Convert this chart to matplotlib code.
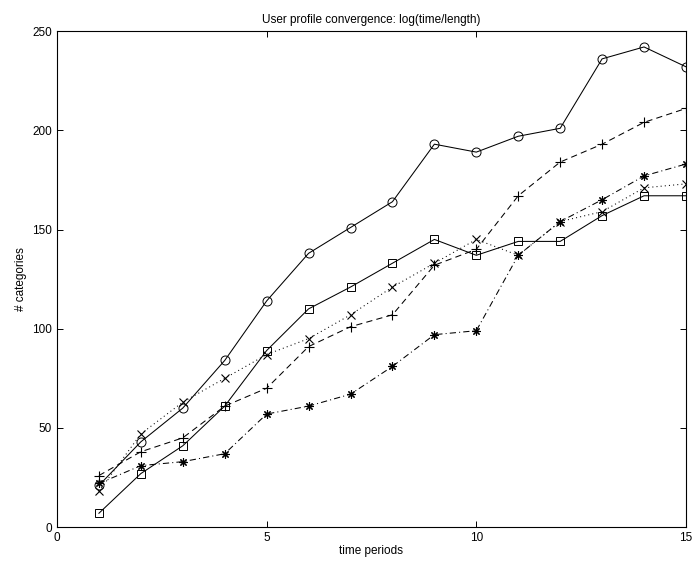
import matplotlib
matplotlib.use("Agg")
import matplotlib.pyplot as plt

plt.rcParams["font.family"] = ["Liberation Sans", "DejaVu Sans"]

# Number of categories in user profiles per time period

periods = list(range(1, 16))

circle_series = [21, 43, 60, 84, 114, 138, 151, 164, 193, 189, 197, 201, 236, 242, 232]
plus_series = [26, 38, 45, 61, 70, 91, 101, 107, 132, 140, 167, 184, 193, 204, 211]
square_series = [7, 27, 41, 61, 89, 110, 121, 133, 145, 137, 144, 144, 157, 167, 167]
x_series = [18, 47, 63, 75, 87, 95, 107, 121, 133, 145, 137, 154, 159, 171, 173]
star_series = [22, 31, 33, 37, 57, 61, 67, 81, 97, 99, 137, 154, 165, 177, 183]

fig = plt.figure(figsize=(6.95, 5.65), dpi=100)
ax = fig.add_axes([0.082, 0.067, 0.905, 0.878])

lw = 0.75
ax.plot(periods, circle_series, color="black", linestyle="-", linewidth=lw,
        marker="o", markersize=6.5, fillstyle="none", markeredgewidth=0.7)
ax.plot(periods, plus_series, color="black", linestyle=(0, (6, 4)), linewidth=lw,
        marker="+", markersize=7, markeredgewidth=0.8)
ax.plot(periods, square_series, color="black", linestyle="-", linewidth=lw,
        marker="s", markersize=6, fillstyle="none", markeredgewidth=0.7)
ax.plot(periods, x_series, color="black", linestyle=(0, (1, 3)), linewidth=lw,
        marker="x", markersize=5.5, markeredgewidth=0.8)
ax.plot(periods, star_series, color="black", linestyle=(0, (6, 3, 1, 3)), linewidth=lw,
        marker=(8, 2, 0), markersize=6, markeredgewidth=0.8)

ax.set_xlim(0, 15)
ax.set_ylim(0, 250)
ax.set_xticks([0, 5, 10, 15])
ax.set_yticks([0, 50, 100, 150, 200, 250])

ax.tick_params(direction="in", top=True, right=True, labelsize=8.5,
               length=4, width=0.7)
for spine in ax.spines.values():
    spine.set_linewidth(0.8)

ax.set_title("User profile convergence: log(time/length)", fontsize=8.5, pad=6)
ax.set_xlabel("time periods", fontsize=8.5, labelpad=1)
ax.set_ylabel("# categories", fontsize=8.5, labelpad=4)

fig.savefig("out.png", dpi=100)
